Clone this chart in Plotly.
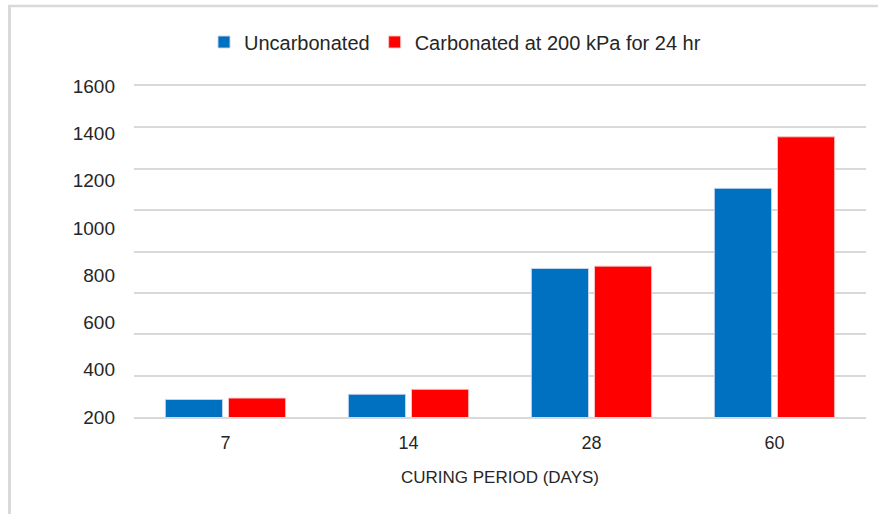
import plotly.graph_objects as go

categories = ["7", "14", "28", "60"]
uncarbonated = [274, 296, 828, 1167]
carbonated = [280, 317, 838, 1385]
series_names = ["Uncarbonated", "Carbonated at 200 kPa for 24 hr"]
y_tick_values = [200, 400, 600, 800, 1000, 1200, 1400, 1600]
x_title = "CURING PERIOD (DAYS)"

W, H = 878, 514
L, R, T, B = 134, 12, 86, 97
pw, ph = W - L - R, H - T - B

def px(x):
    return (x - L) / pw

def py(y):
    return (H - B - y) / ph

FONT = "Liberation Sans, Arial, sans-serif"
TXT = "#262626"
GRID = "#d9d9d9"

fig = go.Figure()
fig.add_trace(go.Bar(x=categories, y=uncarbonated, name=series_names[0],
                     marker=dict(color="#0070C0", line=dict(color="rgba(200,215,235,0.9)", width=1))))
fig.add_trace(go.Bar(x=categories, y=carbonated, name=series_names[1],
                     marker=dict(color="#FF0000", line=dict(color="rgba(245,200,200,0.9)", width=1))))

# invisible helper trace so the grid axis is active
fig.add_trace(go.Scatter(x=[categories[0]], y=[y_tick_values[0]], yaxis="y2",
                         mode="markers", marker=dict(opacity=0), showlegend=False,
                         hoverinfo="skip"))

fig.update_layout(
    width=W, height=H,
    margin=dict(l=L, r=R, t=T, b=B),
    paper_bgcolor="white", plot_bgcolor="white",
    font=dict(family=FONT, size=18, color=TXT),
    barmode="group", bargap=0.31, bargroupgap=0.095,
    showlegend=True,
    legend=dict(orientation="h", x=px(204), xanchor="left", y=py(42), yanchor="middle",
                font=dict(size=20, color=TXT), itemwidth=30, traceorder="normal",
                bgcolor="rgba(0,0,0,0)"),
    xaxis=dict(showgrid=False, showline=True, linecolor=GRID, linewidth=2,
               mirror=True, ticks="", ticklabelstandoff=8, automargin=False,
               tickfont=dict(size=18, color=TXT),
               title=dict(text=x_title, font=dict(size=17, color=TXT), standoff=20)),
    yaxis=dict(range=[200, 1600], tickvals=y_tick_values, showgrid=False,
               showline=False, zeroline=False, ticks="", ticklabelstandoff=18,
               automargin=False, tickfont=dict(size=19, color=TXT)),
    yaxis2=dict(range=[200, 1600], overlaying="y", side="left", tick0=200, dtick=175,
                showgrid=True, gridcolor=GRID, gridwidth=2, showticklabels=False,
                zeroline=False, showline=False, ticks=""),
    shapes=[
        dict(type="line", xref="paper", yref="paper", x0=px(8), x1=px(880), y0=py(6), y1=py(6),
             line=dict(color=GRID, width=2.5)),
        dict(type="line", xref="paper", yref="paper", x0=px(9.5), x1=px(9.5), y0=py(5), y1=py(516),
             line=dict(color=GRID, width=3)),
    ],
)

fig.write_html("out.html", config={"displayModeBar": False},
               post_script="document.body.style.margin='0';")
